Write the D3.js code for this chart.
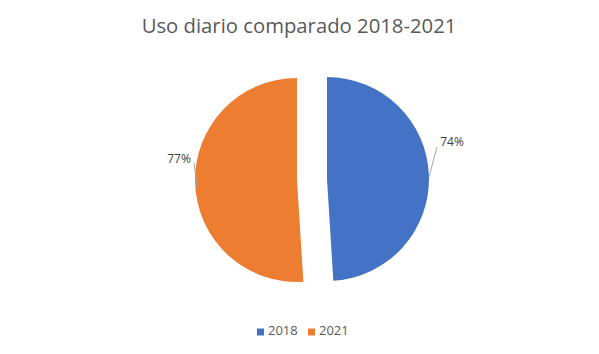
<!DOCTYPE html>
<html>
<head>
<meta charset="utf-8">
<script src="https://cdn.jsdelivr.net/npm/d3@7"></script>
<style>
  body { margin: 0; background: #fff; }
  #pie { width: 599px; height: 354px; }
  text { font-family: "Open Sans", "Liberation Sans", sans-serif; }
</style>
</head>
<body>
<div id="pie"></div>
<script>
const years = ['2018', '2021'];
const values = [74, 77];
const labels = ['74%', '77%'];
const colors = ['#4472C4', '#ED7D31'];

const div = d3.select('#pie');

function drawChart() {
  const width = 599;
  const height = 354;

  div.select('svg').remove();

  const svg = div.append('svg')
    .attr('width', width)
    .attr('height', height);

  svg.append('text')
    .attr('x', 299)
    .attr('y', 33)
    .attr('text-anchor', 'middle')
    .attr('font-size', 20.3)
    .attr('fill', '#595959')
    .text('Uso diario comparado 2018-2021');

  const data = years.map((y, i) => ({year: y, value: values[i], label: labels[i]}));

  const radius = 102;
  const explode = 15;
  const cx = 312, cy = 179.5;

  const pie = d3.pie().sort(null).value(d => d.value);
  const arc = d3.arc().innerRadius(0).outerRadius(radius);
  const arcs = pie(data);

  const g = svg.append('g')
    .attr('transform', `translate(${cx}, ${cy})`);

  const shift = d => {
    const a = (d.startAngle + d.endAngle) / 2;
    return [Math.sin(a) * explode, -Math.cos(a) * explode];
  };

  const slices = g.selectAll('g.slice')
    .data(arcs)
    .join('g')
    .attr('class', 'slice')
    .attr('transform', d => `translate(${shift(d)})`);

  slices.append('path')
    .attr('d', arc)
    .attr('fill', (d, i) => colors[i]);

  // labels with leader lines (offsets relative to each slice's apex)
  const labelPos = [[125, -36], [-118, -20]];
  const lineEnds = [
    [[102, -2], [110, -32]],
    [[-100, 8], [-103, -17]]
  ];

  slices.append('polyline')
    .attr('points', (d, i) => lineEnds[i].map(p => p.join(',')).join(' '))
    .attr('fill', 'none')
    .attr('stroke', '#a6a6a6')
    .attr('stroke-width', 1);

  slices.append('text')
    .attr('x', (d, i) => labelPos[i][0])
    .attr('y', (d, i) => labelPos[i][1])
    .attr('text-anchor', 'middle')
    .attr('dominant-baseline', 'middle')
    .attr('font-size', 12)
    .attr('fill', '#404040')
    .text(d => d.data.label);

  // legend
  const legend = svg.append('g')
    .attr('transform', 'translate(257, 332)');

  const items = legend.selectAll('g')
    .data(years)
    .join('g')
    .attr('transform', (d, i) => `translate(${i * 51}, 0)`);

  items.append('rect')
    .attr('x', 0)
    .attr('y', -3.5)
    .attr('width', 7)
    .attr('height', 7)
    .attr('fill', (d, i) => colors[i]);

  items.append('text')
    .attr('x', 11)
    .attr('y', 0)
    .attr('dominant-baseline', 'middle')
    .attr('font-size', 13)
    .attr('fill', '#595959')
    .text(d => d);
}

drawChart();
</script>
</body>
</html>
